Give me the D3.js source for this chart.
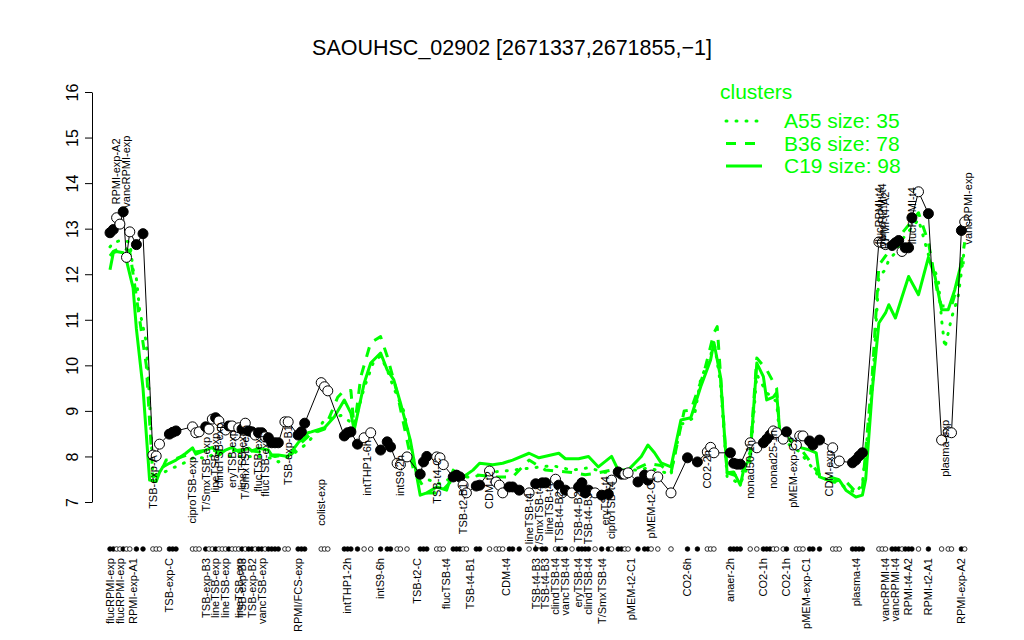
<!DOCTYPE html>
<html><head><meta charset="utf-8">
<script src="https://cdn.jsdelivr.net/npm/d3@7"></script>
<style>body{margin:0;background:#fff}svg{display:block}text{font-family:"Liberation Sans",Arial,Helvetica,sans-serif}</style>
</head><body><svg id="c" width="1024" height="640"></svg>
<script>
// ---- data ----
const title = "SAOUHSC_02902 [2671337,2671855,\u22121]";
const yTicks = [7,8,9,10,11,12,13,14,15,16];
const pointPos = [0,1,2,3,4,5,6,8,10,13,14,15,18,19,20,25,26,27,29,30,31,32,33,34,35,36,37,38,39,40,41,42,43,44,45,46,47,48,49,50,51,53,54,57,58,59,64,65,66,71,72,73,75,77,79,82,84,85,87,88,90,94,95,96,99,100,101,104,105,106,107,108,111,112,115,117,118,119,121,122,124,127,129,131,132,135,136,137,138,140,142,143,144,145,147,149,151,152,154,155,156,157,160,162,163,164,166,170,175,178,181,182,183,188,189,190,191,194,196,198,199,200,201,202,204,205,208,209,210,212,213,215,219,220,221,225,226,227,228,233,234,235,237,238,239,240,241,242,243,245,248,252,254,255,258,259];
const pointVal = [12.91,12.98,13.24,13.1,13.37,12.37,12.93,12.65,12.89,8.03,8.01,8.27,8.49,8.53,8.56,8.65,8.52,8.54,8.65,8.6,8.82,8.85,8.78,8.63,8.58,8.67,8.67,8.47,8.63,8.6,8.73,8.56,8.54,8.47,8.52,8.52,8.43,8.41,8.3,8.3,8.3,8.76,8.76,8.47,8.54,8.73,9.62,9.53,9.44,8.45,8.52,8.54,8.27,8.41,8.52,8.14,8.32,8.21,7.85,7.82,7.99,7.61,7.88,8.0,7.99,7.97,7.82,7.55,7.59,7.55,7.37,7.2,7.35,7.37,7.68,7.44,7.37,7.2,7.33,7.33,7.26,7.2,7.4,7.42,7.42,7.5,7.37,7.2,7.26,7.2,7.33,7.42,7.2,7.26,7.2,7.15,7.17,7.48,7.66,7.61,7.61,7.64,7.44,7.59,7.48,7.59,7.55,7.2,7.97,7.88,8.1,8.2,8.08,8.08,7.85,7.83,7.83,8.3,8.19,8.3,8.38,8.47,8.56,8.52,8.38,8.54,8.25,8.45,8.45,8.34,8.25,8.36,8.19,7.86,7.9,7.86,7.92,8.01,8.08,12.71,12.69,12.65,12.63,12.69,12.74,12.5,12.58,12.58,13.24,13.81,13.33,8.36,8.54,8.52,12.96,13.15];
const pointFill = [1,1,0,0,1,0,0,1,1,0,0,0,1,1,1,0,0,0,1,0,0,1,0,0,0,1,0,0,0,1,0,1,1,0,1,1,0,1,1,1,1,0,0,1,1,1,0,0,0,1,1,1,1,0,0,1,1,1,0,0,0,1,1,1,0,0,0,1,1,1,0,0,1,1,0,0,0,0,1,1,1,0,1,1,1,0,1,0,1,0,1,1,1,1,0,1,1,0,1,1,0,0,1,1,1,0,0,0,1,1,0,0,0,1,1,1,1,0,0,1,1,1,0,0,0,1,0,0,0,1,1,1,0,0,0,1,1,1,1,0,0,0,1,1,1,0,1,1,1,0,1,0,0,0,1,0];

// cluster profiles: [position, value]
const clusterA55 = [[0,12.6],[1,12.7],[4,12.75],[6,12.7],[7,12.1],[8,11.9],[9,11.2],[11,10.5],[12,9.2],[13,7.6],[15,7.6],[19,7.75],[21,7.8],[26,8.0],[29,7.95],[32,8.08],[37,8.0],[42,8.0],[45,8.0],[50,7.95],[51,7.88],[56,8.08],[60,8.3],[65,8.8],[70,8.9],[74,8.7],[77,9.5],[80,10.1],[82,10.2],[84,9.9],[86,9.5],[89,9.0],[91,8.3],[93,7.6],[96,7.5],[100,7.4],[104,7.55],[110,7.55],[115,7.65],[122,7.7],[128,7.75],[134,7.8],[140,7.7],[145,7.75],[150,7.65],[155,7.7],[160,7.7],[163,7.75],[168,7.65],[170,7.6],[173,8.7],[177,8.85],[179,9.7],[182,10.2],[183,10.55],[185,9.6],[187,7.55],[191,7.4],[194,7.9],[196,9.8],[199,9.4],[202,9.2],[203,8.4],[209,8.1],[215,7.55],[221,7.4],[226,7.2],[228,7.4],[231,9.5],[233,11.95],[235,12.1],[236,12.32],[238,12.47],[240,12.76],[245,13.2],[248,12.43],[251,11.88],[252,11.0],[253,10.38],[255,11.04],[257,11.5],[259,12.6]];
const clusterB36 = [[0,12.4],[1,12.5],[4,12.6],[6,12.5],[7,12.0],[9,11.0],[11,10.0],[13,7.55],[15,7.6],[17,7.92],[20,7.95],[26,8.1],[30,8.15],[35,8.1],[40,8.15],[45,8.1],[50,8.0],[55,8.05],[58,8.3],[61,8.5],[65,8.6],[69,9.3],[71,9.45],[73,9.45],[74,8.6],[76,9.75],[79,10.5],[82,10.63],[84,10.2],[87,9.4],[90,8.36],[92,7.7],[96,7.2],[100,7.2],[104,7.5],[110,7.6],[117,7.55],[122,7.55],[127,7.92],[132,7.7],[140,7.65],[144,7.6],[148,7.64],[152,7.7],[156,7.65],[160,7.75],[163,7.85],[167,7.8],[170,7.64],[174,9.0],[176,9.02],[180,9.84],[183,10.71],[184,10.85],[185,9.8],[187,7.64],[191,7.55],[194,8.1],[196,10.16],[199,9.9],[202,9.5],[203,8.5],[209,8.2],[215,7.6],[218,7.55],[223,7.45],[226,7.22],[228,7.3],[231,9.8],[233,12.2],[236,12.5],[240,12.9],[245,13.35],[248,12.7],[251,11.5],[252,11.3],[255,11.3],[257,11.8],[259,12.7]];
const clusterC19 = [[0,12.1],[1,12.47],[2,12.5],[4,12.47],[5,12.3],[7,11.7],[8,10.8],[10,9.5],[12,7.48],[14,7.45],[15,7.65],[16,7.77],[18,7.85],[20,7.92],[23,8.07],[25,8.19],[26,8.05],[29,8.14],[31,8.2],[33,8.03],[35,8.14],[37,8.2],[39,8.1],[42,8.18],[43,8.12],[45,8.18],[48,8.14],[49,8.03],[51,8.03],[54,8.0],[57,8.3],[60,8.52],[61,8.54],[65,8.63],[68,8.87],[71,9.24],[73,8.95],[74,8.58],[77,9.6],[79,10.05],[82,10.27],[84,9.9],[86,9.68],[88,9.18],[91,8.36],[93,7.55],[94,7.15],[96,7.2],[99,7.33],[102,7.26],[104,7.7],[107,7.55],[110,7.7],[112,7.85],[116,7.82],[119,7.85],[122,7.92],[127,8.07],[130,7.97],[136,8.07],[138,7.95],[142,7.95],[145,8.0],[148,7.77],[152,8.0],[154,7.7],[157,7.7],[161,8.0],[163,8.25],[165,8.08],[167,7.86],[170,7.77],[173,8.8],[176,8.85],[179,9.53],[182,10.12],[183,10.5],[185,9.75],[187,7.64],[189,7.66],[191,7.37],[192,7.7],[194,8.0],[196,10.05],[198,9.75],[199,9.24],[201,9.3],[202,9.4],[203,8.52],[205,8.43],[209,8.2],[212,8.14],[214,8.08],[215,7.55],[219,7.44],[221,7.48],[223,7.26],[226,7.11],[228,7.15],[229,7.5],[231,9.46],[233,10.93],[235,11.15],[236,11.33],[238,11.04],[240,11.5],[242,11.95],[245,11.55],[248,12.37],[250,11.95],[252,11.22],[254,11.22],[256,11.66],[258,12.25],[259,12.25]];
const clusterNames = ["A55 size: 35","B36 size: 78","C19 size: 98"];

// axis labels under the dot row
const axisLabelText = ["flucRPMI-exp","flucRPMI-exp","RPMI-exp-A1","TSB-exp-C","TSB-exp-B3","lineTSB-exp","lineTSB-exp","lineTSB-exp","TSB-exp-B3","TSB-exp-B2","vancTSB-exp","RPMI/FCS-exp","intTHP1-2h","intS9-6h","TSB-t2-C","flucTSB-t4","TSB-t4-B1","CDM-t4","TSB-t4-B3","TSB-t4-B3","clindTSB-t4","vancTSB-t4","eryTSB-t4","clindTSB-t4","T/SmxTSB-t4","pMEM-t2-C1","CO2-6h","anaer-2h","CO2-1h","CO2-1h","pMEM-exp-C1","plasma-t4","vancRPMI-t4","vancRPMI-t4","RPMI-t4-A2","RPMI-t2-A1","RPMI-exp-A2"];
const axisLabelPos = [0,3,7,18,29,32,35,39,40,43,46,57,72,82,93,102,109,120,129,132,135,138,142,145,149,158,175,188,198,205,211,226,235,238,242,248,258];

// labels inside the plot: text, position, anchor value, direction (1 = above, 0 = below)
const inLabelText = ["RPMI-exp-A2","vancRPMI-exp","TSB-exp-A","ciproTSB-exp","T/SmxTSB-exp","lineTSB-exp","clindTSB-exp","eryTSB-exp","lineTSB-exp","T/SmxTSB-exp","flucTSB-exp","flucTSB-exp","TSB-exp-B1","colist-exp","intTHP1-6h","intS9-2h","TSB-t4-C","TSB-t2-B1","CDM-t2","lineTSB-t4","T/SmxTSB-t4","lineTSB-t4","TSB-t4-B2","TSB-t4-B2","TSB-t4-B3","eryTSB-t4","ciproTSB-t4","pMEM-t2-C1","CO2-2h","nonad50-1h","nonad25-1h","pMEM-exp-C2","CDM-exp","flucRPMI-t4","vancRPMI-t4","RPMI-t4-A2","flucRPMI-t4","plasma-exp","vancRPMI-exp"];
const inLabelPos = [2,5,13,25,29,32,33,37,40,41,45,47,54,64,78,88,99,107,115,127,130,133,136,142,145,150,152,164,181,194,201,207,218,233,234,235,243,253,260];
const inLabelVal = [13.53,13.46,8.03,7.99,8.43,8.52,8.74,8.58,8.58,8.69,8.54,8.43,8.69,7.5,8.36,8.03,7.97,7.42,7.68,7.2,7.37,7.42,7.24,7.24,7.2,7.57,7.46,7.57,8.14,8.36,8.58,8.43,8.14,12.65,12.6,12.55,12.65,8.8,12.65];
const inLabelUp = [1,1,0,0,0,0,0,0,0,0,0,0,0,0,0,0,0,0,0,0,0,0,0,0,0,0,0,0,0,0,0,0,0,1,1,1,1,0,1];

// ---- drawing ----
const svg = d3.select("#c");
const green = "#00ff00";
const x = d3.scaleLinear().domain([0, 259]).range([110, 964.7]);
const y = d3.scaleLinear().domain([7, 16]).range([502, 92]);

svg.append("text").attr("x", 512).attr("y", 55).attr("text-anchor", "middle")
  .attr("font-size", 21.5).text(title);

const yAxis = svg.append("g").attr("transform", "translate(92,0)")
  .call(d3.axisLeft(y).tickValues(yTicks).tickSize(7).tickSizeOuter(0).tickFormat(d3.format("d")));
yAxis.select(".domain").attr("stroke", "#000");
yAxis.selectAll(".tick line").attr("stroke", "#000");
yAxis.selectAll(".tick text").attr("font-size", 16).attr("fill", "#000")
  .attr("text-anchor", "middle").attr("x", 0).attr("y", 0).attr("dy", "0")
  .attr("transform", "translate(-14,0) rotate(-90)");

// cluster lines
const lineGen = d3.line().x(d => x(d[0])).y(d => y(d[1]));
const clusters = [clusterA55, clusterB36, clusterC19];
const dashes = ["1 9", "10 9", null];
const caps = ["round", "butt", "butt"];
clusters.forEach((c, i) => {
  svg.append("path").attr("d", lineGen(c)).attr("fill", "none").attr("stroke", green)
    .attr("stroke-width", 3).attr("stroke-dasharray", dashes[i]).attr("stroke-linecap", caps[i])
    .attr("stroke-linejoin", "round");
});

// data line and points
const pts = pointPos.map((p, i) => ({p, v: pointVal[i], f: pointFill[i]}));
svg.append("path").attr("d", d3.line().x(d => x(d.p)).y(d => y(d.v))(pts))
  .attr("fill", "none").attr("stroke", "#000").attr("stroke-width", 1);
svg.selectAll("circle.pt").data(pts).join("circle").attr("class", "pt")
  .attr("cx", d => x(d.p)).attr("cy", d => y(d.v)).attr("r", 5)
  .attr("fill", d => d.f ? "#000" : "#fff").attr("stroke", "#000").attr("stroke-width", 1);

// dot row
svg.selectAll("circle.rug").data(pts).join("circle").attr("class", "rug")
  .attr("cx", d => x(d.p)).attr("cy", 549).attr("r", 2.3)
  .attr("fill", d => d.f ? "#000" : "#fff").attr("stroke", "#000").attr("stroke-width", 0.8);

// axis labels
axisLabelText.forEach((t, i) => {
  svg.append("text").attr("transform", `translate(${x(axisLabelPos[i])},558) rotate(-90)`)
    .attr("text-anchor", "end").attr("dy", "0.35em").attr("font-size", 11).text(t);
});

// in-plot labels
inLabelText.forEach((t, i) => {
  svg.append("text").attr("transform", `translate(${x(inLabelPos[i])},${y(inLabelVal[i])}) rotate(-90)`)
    .attr("text-anchor", inLabelUp[i] ? "start" : "end").attr("dy", "0.35em")
    .attr("font-size", 11).text(t);
});

// legend
const lg = svg.append("g");
lg.append("text").attr("x", 720).attr("y", 99).attr("fill", green).attr("font-size", 21).text("clusters");
clusterNames.forEach((n, i) => {
  const yy = 121 + i * 22.5;
  lg.append("line").attr("x1", 726).attr("x2", 762).attr("y1", yy).attr("y2", yy)
    .attr("stroke", green).attr("stroke-width", 3).attr("stroke-dasharray", dashes[i]).attr("stroke-linecap", caps[i]);
  lg.append("text").attr("x", 784).attr("y", yy + 7).attr("fill", green).attr("font-size", 21).text(n);
});
</script></body></html>
